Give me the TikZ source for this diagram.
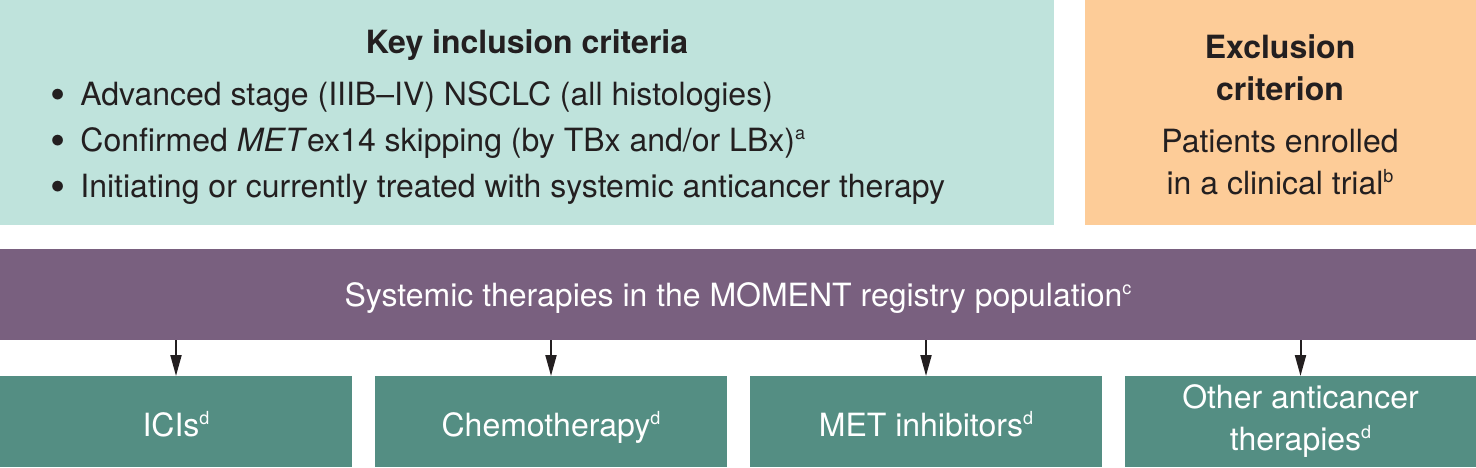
\documentclass[tikz,border=0pt]{standalone}
\usepackage{fontspec}
\setmainfont{TeX Gyre Heros}
\usetikzlibrary{arrows.meta,positioning}
\definecolor{inclteal}{HTML}{BFE3DC}
\definecolor{exclorange}{HTML}{FDCC98}
\definecolor{popviolet}{HTML}{79607F}
\definecolor{therteal}{HTML}{548E83}
\definecolor{inkgray}{HTML}{231F20}
\newcommand{\fnmark}[1]{\raisebox{.72ex}{\fontsize{9}{9}\selectfont #1}}
\newcommand{\blt}{\makebox[15pt][l]{\raisebox{-.25ex}{\scalebox{1.35}{\textbullet}}}}
\begin{document}
\begin{tikzpicture}[
  x=0.5pt,y=-0.5pt,
  every node/.style={font=\fontsize{16}{21}\selectfont,text=inkgray},
  panel/.style={anchor=north west,inner sep=0pt,outer sep=0pt},
  therbox/.style={panel,fill=therteal,minimum width=176pt,minimum height=45.5pt,
    align=center,text=white},
  oneline/.style={text height=16pt,text depth=1pt},
  arr/.style={-{Triangle[length=10.5pt,width=5.5pt]},line width=1pt,inkgray}]
  \path[use as bounding box] (0,0) rectangle (1476,467);

  % Top row: inclusion and exclusion criteria.
  \node[panel,fill=inclteal,minimum width=527pt,minimum height=112.5pt] (incl) at (0,0) {};
  \node[font=\fontsize{16}{21}\selectfont\bfseries] (incltitle) at (527,45)
    {Key inclusion criteria};
  \node[anchor=west,align=left,inner sep=0pt,
    font=\fontsize{16}{23}\selectfont] (incllist) at (50,143)
    {\blt Advanced stage (IIIB--IV) NSCLC (all histologies)\\
     \blt Confirmed \textit{MET}ex14 skipping (by TBx and/or LBx)\fnmark{a}\\
     \blt Initiating or currently treated with systemic anticancer therapy};
  \node[panel,fill=exclorange,minimum width=195.5pt,minimum height=112.5pt] (excl) at (1085,0) {};
  \node[align=center] (excltext) at (1280,115)
    {\textbf{Exclusion}\\\textbf{criterion}\\[5pt]
     Patients enrolled\\in a clinical trial\fnmark{b}};

  % Middle bar: registry population.
  \node[panel,fill=popviolet,minimum width=738pt,minimum height=45.5pt,text=white]
    (pop) at (0,249) {};
  \node[text=white] (poptext) at (738,298)
    {Systemic therapies in the MOMENT registry population\fnmark{c}};

  % Bottom row: therapy classes.
  \node[therbox,oneline] (ici) at (0,376) {ICIs\fnmark{d}};
  \node[therbox,oneline] (chemo) at (375,376) {Chemotherapy\fnmark{d}};
  \node[therbox,oneline] (meti) at (750,376) {MET inhibitors\fnmark{d}};
  \node[therbox,minimum width=175.5pt] (other) at (1125,376)
    {Other anticancer\\therapies\fnmark{d}};
  \foreach \t in {ici,chemo,meti,other}
    \draw[arr] (pop.south -| \t.north) -- (\t.north);
\end{tikzpicture}
\end{document}
